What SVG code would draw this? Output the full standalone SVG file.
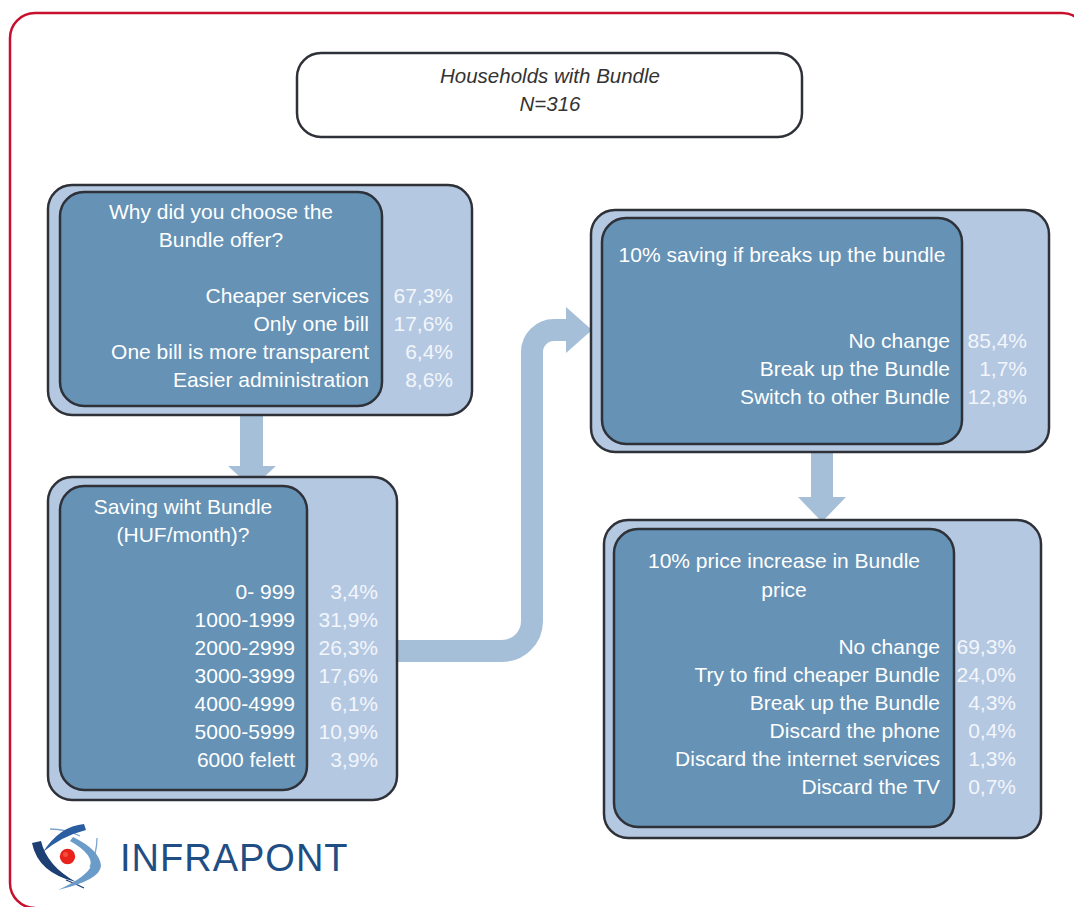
<svg xmlns="http://www.w3.org/2000/svg" width="1074" height="907" viewBox="0 0 1074 907">
<style>
.outer{fill:#b5c8e2;stroke:#2e3138;stroke-width:2.5}
.inner{fill:#6592b5;stroke:#2e3138;stroke-width:2.5}
.t{font-family:"Liberation Sans",Arial,sans-serif;font-size:21px;fill:#ffffff}
.r{text-anchor:end}
.c{text-anchor:middle}
.p{fill:#f2f6fb}
.title{font-family:"Liberation Sans",Arial,sans-serif;font-size:20.5px;font-style:italic;fill:#333;text-anchor:middle}
.arrow{fill:#a6bfd9}
</style>
<rect x="0" y="0" width="1074" height="907" fill="#ffffff"/>
<path d="M35,908 A25,25 0 0 1 10,883 V38 A25,25 0 0 1 35,13 H1062 A25,25 0 0 1 1087,38" fill="none" stroke="#c8102e" stroke-width="2.5"/>

<g id="connectors">
  <rect class="arrow" x="240" y="414" width="23" height="52"/>
  <polygon class="arrow" points="228,466 276,466 252,488"/>
  <path d="M395,651 H502 A30,30 0 0 0 532,621 V352 A22,22 0 0 1 554,330 H568" fill="none" stroke="#a6bfd9" stroke-width="22"/>
  <polygon class="arrow" points="566,307 592,330 566,353"/>
  <rect class="arrow" x="811" y="450" width="22" height="48"/>
  <polygon class="arrow" points="798,497 846,497 822,522"/>
</g>

<g id="title">
  <rect x="297" y="53" width="505" height="84" rx="24" fill="#fff" stroke="#2e3138" stroke-width="2.5"/>
  <text class="title" x="550" y="83">Households with Bundle</text>
  <text class="title" x="550" y="111">N=316</text>
</g>

<g id="why">
  <rect class="outer" x="48" y="185" width="424" height="230" rx="24"/>
  <rect class="inner" x="60" y="192" width="322" height="214" rx="24"/>
  <text class="t c" x="221" y="219">Why did you choose the</text>
  <text class="t c" x="221" y="247">Bundle offer?</text>
  <text class="t r" x="369" y="303">Cheaper services</text>
  <text class="t r" x="369" y="331">Only one bill</text>
  <text class="t r" x="369" y="359">One bill is more transparent</text>
  <text class="t r" x="369" y="387">Easier administration</text>
  <text class="t r p" x="453" y="303">67,3%</text>
  <text class="t r p" x="453" y="331">17,6%</text>
  <text class="t r p" x="453" y="359">6,4%</text>
  <text class="t r p" x="453" y="387">8,6%</text>
</g>

<g id="saving">
  <rect class="outer" x="48" y="477" width="349" height="323" rx="24"/>
  <rect class="inner" x="60" y="486" width="247" height="304" rx="24"/>
  <text class="t c" x="183" y="514">Saving wiht Bundle</text>
  <text class="t c" x="183" y="542">(HUF/month)?</text>
  <text class="t r" x="295" y="599">0-  999</text>
  <text class="t r" x="295" y="627">1000-1999</text>
  <text class="t r" x="295" y="655">2000-2999</text>
  <text class="t r" x="295" y="683">3000-3999</text>
  <text class="t r" x="295" y="711">4000-4999</text>
  <text class="t r" x="295" y="739">5000-5999</text>
  <text class="t r" x="295" y="767">6000 felett</text>
  <text class="t r p" x="378" y="599">3,4%</text>
  <text class="t r p" x="378" y="627">31,9%</text>
  <text class="t r p" x="378" y="655">26,3%</text>
  <text class="t r p" x="378" y="683">17,6%</text>
  <text class="t r p" x="378" y="711">6,1%</text>
  <text class="t r p" x="378" y="739">10,9%</text>
  <text class="t r p" x="378" y="767">3,9%</text>
</g>

<g id="breakup">
  <rect class="outer" x="591" y="210" width="458" height="242" rx="24"/>
  <rect class="inner" x="602" y="218" width="360" height="226" rx="24"/>
  <text class="t c" x="782" y="262">10% saving if breaks up the bundle</text>
  <text class="t r" x="950" y="348">No change</text>
  <text class="t r" x="950" y="376">Break up the Bundle</text>
  <text class="t r" x="950" y="404">Switch to other Bundle</text>
  <text class="t r p" x="1027" y="348">85,4%</text>
  <text class="t r p" x="1027" y="376">1,7%</text>
  <text class="t r p" x="1027" y="404">12,8%</text>
</g>

<g id="increase">
  <rect class="outer" x="604" y="520" width="437" height="318" rx="24"/>
  <rect class="inner" x="614" y="529" width="340" height="298" rx="24"/>
  <text class="t c" x="784" y="568">10% price increase in Bundle</text>
  <text class="t c" x="784" y="597">price</text>
  <text class="t r" x="940" y="654">No change</text>
  <text class="t r" x="940" y="682">Try to find cheaper Bundle</text>
  <text class="t r" x="940" y="710">Break up the Bundle</text>
  <text class="t r" x="940" y="738">Discard the phone</text>
  <text class="t r" x="940" y="766">Discard the internet services</text>
  <text class="t r" x="940" y="794">Discard the TV</text>
  <text class="t r p" x="1016" y="654">69,3%</text>
  <text class="t r p" x="1016" y="682">24,0%</text>
  <text class="t r p" x="1016" y="710">4,3%</text>
  <text class="t r p" x="1016" y="738">0,4%</text>
  <text class="t r p" x="1016" y="766">1,3%</text>
  <text class="t r p" x="1016" y="794">0,7%</text>
</g>

<g id="logo">
  <path d="M50,829 Q66,829 80,836" fill="none" stroke="#7fa6cf" stroke-width="1.3"/>
  <path d="M97,838 Q97,853 90,867" fill="none" stroke="#7fa6cf" stroke-width="1.3"/>
  <path d="M66,880 Q76,884 84,888" fill="none" stroke="#1d3f73" stroke-width="1.3"/>
  <path d="M32,843 Q38,873 76,882 Q47,866 41,841 Z" fill="#1d3f73"/>
  <path d="M84,824 Q60,826 43,852 Q62,836 86,830 Z" fill="#2a5ea0"/>
  <path d="M73,837 Q100,850 101,866 Q100,880 58,890 Q84,878 90,868 Q95,855 70,841 Z" fill="#6b9cc9"/>
  <circle cx="67.5" cy="856.5" r="7.7" fill="#e8231c"/>
  <circle cx="65.5" cy="854.5" r="2.5" fill="#ff6a50" opacity="0.6"/>
  <text x="120" y="871" font-family="'Liberation Sans',Arial,sans-serif" font-size="38" fill="#1f4e85" letter-spacing="1">INFRAPONT</text>
</g>
</svg>
